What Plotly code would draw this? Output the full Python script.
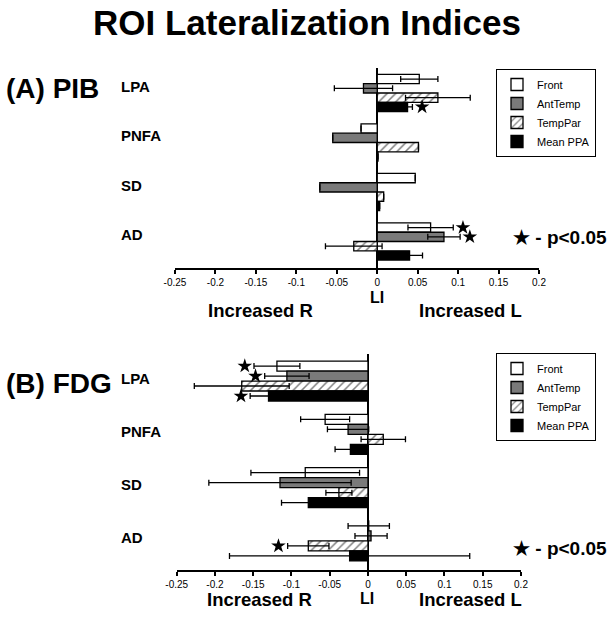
import plotly.graph_objects as go

# ---------------- data ----------------
categories = ["LPA", "PNFA", "SD", "AD"]
series_names = ["Front", "AntTemp", "TempPar", "Mean PPA"]

# (A) PIB
pib_front = [0.052, -0.020, 0.047, 0.066]
pib_front_err = [0.023, None, None, 0.028]
pib_anttemp = [-0.017, -0.055, -0.071, 0.0825]
pib_anttemp_err = [0.036, None, None, 0.020]
pib_temppar = [0.075, 0.051, 0.008, -0.029]
pib_temppar_err = [0.040, None, None, 0.035]
pib_mean = [0.0375, 0.001, 0.003, 0.040]
pib_mean_err = [0.006, None, None, 0.016]
pib_sig = [[False, False, False, True],   # Front
           [False, False, False, True],   # AntTemp
           [False, False, False, False],  # TempPar
           [True, False, False, False]]   # Mean PPA

# (B) FDG
fdg_front = [-0.119, -0.056, -0.082, 0.001]
fdg_front_err = [0.030, 0.032, 0.071, 0.027]
fdg_anttemp = [-0.106, -0.026, -0.115, 0.004]
fdg_anttemp_err = [0.029, 0.027, 0.093, 0.021]
fdg_temppar = [-0.165, 0.020, -0.038, -0.078]
fdg_temppar_err = [0.062, 0.029, 0.017, 0.027]
fdg_mean = [-0.130, -0.023, -0.078, -0.024]
fdg_mean_err = [0.024, 0.020, 0.035, 0.157]
fdg_sig = [[True, False, False, False],
           [True, False, False, False],
           [False, False, False, True],
           [True, False, False, False]]

tick_vals = [-0.25, -0.2, -0.15, -0.1, -0.05, 0, 0.05, 0.1, 0.15, 0.2]
tick_text = ["-0.25", "-0.2", "-0.15", "-0.1", "-0.05", "0", "0.05", "0.1", "0.15", "0.2"]

# ---------------- styling ----------------
FONT = "Arial, Liberation Sans, sans-serif"
styles = [
    dict(color="white", pattern=None),
    dict(color="#7a7a7a", pattern=None),
    dict(color="white", pattern=dict(shape="/", fgcolor="black", bgcolor="white", size=6, solidity=0.25)),
    dict(color="black", pattern=None),
]
BARGAP = 0.25
n_series = 4
bar_w = (1 - BARGAP) / n_series
offsets = [(-(1 - BARGAP) / 2 + bar_w * (i + 0.5)) for i in range(n_series)]

fig = go.Figure()

panels = [
    dict(vals=[pib_front, pib_anttemp, pib_temppar, pib_mean],
         errs=[pib_front_err, pib_anttemp_err, pib_temppar_err, pib_mean_err],
         sig=pib_sig, xa="x", ya="y", legend="legend", yshift=7),
    dict(vals=[fdg_front, fdg_anttemp, fdg_temppar, fdg_mean],
         errs=[fdg_front_err, fdg_anttemp_err, fdg_temppar_err, fdg_mean_err],
         sig=fdg_sig, xa="x2", ya="y2", legend="legend2", yshift=3),
]

ypos = list(range(len(categories)))
for p in panels:
    for i, name in enumerate(series_names):
        st = styles[i]
        marker = dict(color=st["color"], line=dict(color="black", width=1.3))
        if st["pattern"]:
            marker["pattern"] = st["pattern"]
        fig.add_trace(go.Bar(
            y=ypos, x=p["vals"][i], name=name, orientation="h",
            marker=marker,
            error_x=dict(type="data", array=p["errs"][i], visible=True,
                         color="black", thickness=1.3, width=3),
            xaxis=p["xa"], yaxis=p["ya"], legend=p["legend"],
            showlegend=True,
        ))
    # significance stars (p < 0.05) as star markers
    sx, sy = [], []
    for i in range(n_series):
        for j in range(len(categories)):
            if p["sig"][i][j]:
                v = p["vals"][i][j]
                e = p["errs"][i][j] or 0
                sgn = 1 if v >= 0 else -1
                sx.append(v + sgn * (e + 0.012))
                sy.append(j + offsets[i])
    fig.add_trace(go.Scatter(
        x=sx, y=sy, mode="markers", xaxis=p["xa"], yaxis=p["ya"],
        marker=dict(symbol="star", size=11, color="black", line=dict(width=0)),
        showlegend=False, hoverinfo="skip",
    ))
    # category labels
    for j, c in enumerate(categories):
        fig.add_annotation(
            x=119 / 614, xref="paper", y=j, yref=p["ya"], text="<b>%s</b>" % c,
            showarrow=False, xanchor="left", yshift=p["yshift"],
            font=dict(size=15, color="black", family=FONT),
        )

xcommon = dict(range=[-0.25, 0.2], tickvals=tick_vals, ticktext=tick_text,
               showline=True, linecolor="black", linewidth=1.5,
               ticks="outside", ticklen=4, tickwidth=1.5, tickcolor="black",
               showgrid=False, zeroline=True, zerolinecolor="black", zerolinewidth=1.5,
               tickfont=dict(size=10, color="black", family=FONT))
ycommon = dict(showticklabels=False, showline=False, showgrid=False, zeroline=False,
               ticks="")

fig.update_layout(
    width=614, height=625,
    margin=dict(l=0, r=0, t=0, b=0, autoexpand=False),
    paper_bgcolor="white", plot_bgcolor="white",
    barmode="group", bargap=BARGAP, bargroupgap=0,
    font=dict(family=FONT, color="black"),
    xaxis=dict(domain=[175 / 614, 539 / 614], anchor="y", **xcommon),
    yaxis=dict(domain=[1 - 268 / 625, 1 - 68 / 625], anchor="x",
               range=[3.535, -0.505], **ycommon),
    xaxis2=dict(domain=[176.7 / 614, 521 / 614], anchor="y2", **xcommon),
    yaxis2=dict(domain=[1 - 570 / 625, 1 - 354 / 625], anchor="x2",
                range=[3.545, -0.507], **ycommon),
    legend=dict(x=496 / 614, y=1 - 69 / 625, xanchor="left", yanchor="top",
                bordercolor="black", borderwidth=1, bgcolor="white",
                font=dict(size=11, color="black", family=FONT), traceorder="normal"),
    legend2=dict(x=496 / 614, y=1 - 353 / 625, xanchor="left", yanchor="top",
                 bordercolor="black", borderwidth=1, bgcolor="white",
                 font=dict(size=11, color="black", family=FONT), traceorder="normal"),
)

texts = [
    ("<b>ROI Lateralization Indices</b>", 307, 22, 35, "center"),
    ("<b>(A) PIB</b>", 4, 88, 28, "left"),
    ("<b>(B) FDG</b>", 4, 383, 28, "left"),
    ("<b>Increased R</b>", 260, 310, 18.5, "center"),
    ("<b>LI</b>", 377, 297, 16, "center"),
    ("<b>Increased L</b>", 470, 310, 18.5, "center"),
    ("<b>Increased R</b>", 259, 599, 18.5, "center"),
    ("<b>LI</b>", 367, 598, 16, "center"),
    ("<b>Increased L</b>", 470, 599, 18.5, "center"),
    ("<b>★ - p&lt;0.05</b>", 609, 237, 19, "right"),
    ("<b>★ - p&lt;0.05</b>", 609, 548, 19, "right"),
]
for t, x, y, s, anc in texts:
    fig.add_annotation(text=t, x=x / 614, y=1 - y / 625, xref="paper", yref="paper",
                       showarrow=False, xanchor=anc, yanchor="middle",
                       font=dict(size=s, color="black", family=FONT))

fig.write_html("out.html", config={"displayModeBar": False},
               post_script="document.body.style.margin='0';")
